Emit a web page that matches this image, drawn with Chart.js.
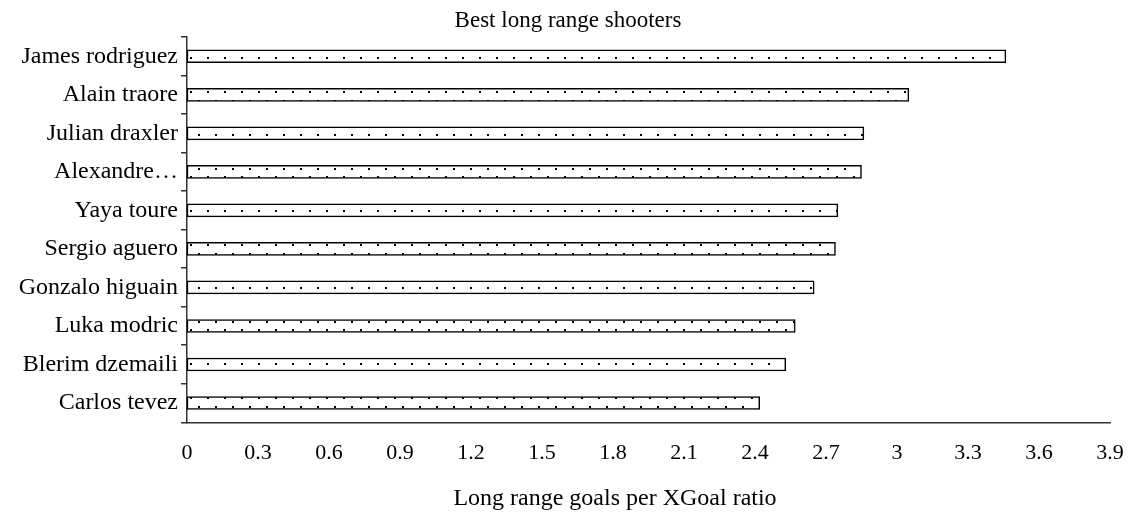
<!DOCTYPE html>
<html>
<head>
<meta charset="utf-8">
<script src="https://cdn.jsdelivr.net/npm/chart.js@4.4.1/dist/chart.umd.min.js"></script>
<style>
  html, body { margin: 0; padding: 0; background: #fff; }
  #wrap { width: 1131px; height: 513px; }
</style>
</head>
<body>
<div id="wrap"><canvas id="shooters"></canvas></div>
<script>
"use strict";

const players = ['James rodriguez', 'Alain traore', 'Julian draxler', 'Alexandre…', 'Yaya toure',
	'Sergio aguero', 'Gonzalo higuain', 'Luka modric', 'Blerim dzemaili', 'Carlos tevez'];
const ratios = [3.46, 3.05, 2.86, 2.85, 2.75, 2.74, 2.65, 2.57, 2.53, 2.42];
const xTicks = [0, 0.3, 0.6, 0.9, 1.2, 1.5, 1.8, 2.1, 2.4, 2.7, 3, 3.3, 3.6, 3.9];

const FONT = '"Liberation Serif", "Times New Roman", serif';
const font = { family: FONT, size: 22, weight: 'normal' };

// white fill with staggered black dots
function dots() {
	const c = document.createElement('canvas');
	c.width = 17; c.height = 17;
	const g = c.getContext('2d');
	g.fillStyle = '#fff';
	g.fillRect(0, 0, 17, 17);
	g.fillStyle = '#000';
	g.fillRect(3, 6, 2, 2);
	g.fillRect(11, 15, 2, 2);
	return g.createPattern(c, 'repeat');
}

// free standing texts: chart title and x axis caption
const captions = {
	id: 'captions',
	afterDraw(chart, args, opts) {
		const ctx = chart.ctx;
		ctx.save();
		ctx.fillStyle = '#000';
		ctx.textAlign = 'center';
		ctx.textBaseline = 'middle';
		for (const t of opts.items) {
			ctx.font = t.size + 'px ' + FONT;
			ctx.fillText(t.text, t.x, t.y);
		}
		ctx.restore();
	}
};

new Chart(document.getElementById('shooters'), {
	type: 'bar',
	data: {
		labels: players,
		datasets: [{
			data: ratios,
			backgroundColor: dots(),
			borderColor: '#000',
			borderWidth: 1.5,
			borderSkipped: false,
			barThickness: 13
		}]
	},
	options: {
		indexAxis: 'y',
		responsive: true,
		maintainAspectRatio: false,
		animation: false,
		layout: { padding: { top: 37, right: 21, bottom: 0, left: 0 } },
		plugins: {
			legend: { display: false },
			tooltip: { enabled: false },
			captions: {
				items: [
					{ text: 'Best long range shooters', x: 568, y: 21, size: 23 },
					{ text: 'Long range goals per XGoal ratio', x: 615, y: 499, size: 24 }
				]
			}
		},
		scales: {
			x: {
				min: 0,
				max: 3.9,
				afterBuildTicks: s => { s.ticks = xTicks.map(v => ({ value: v })); },
				afterFit: s => {
					s.height = 90.7;
					// the 3.9 label fits inside the right margin
					s.paddingRight = 0;
				},
				grid: { display: false, drawTicks: false },
				border: { display: true, color: '#333', width: 1.5 },
				ticks: {
					color: '#000',
					padding: 18,
					maxRotation: 0,
					autoSkip: false,
					font: font,
					callback: v => String(+v.toFixed(1))
				}
			},
			y: {
				afterFit: s => { s.width = 187; },
				grid: { drawOnChartArea: false, tickLength: 6, color: '#333', lineWidth: 1.5 },
				border: { color: '#333', width: 1.5 },
				ticks: { color: '#000', padding: 3, font: { family: FONT, size: 24, weight: 'normal' } }
			}
		}
	},
	plugins: [captions]
});
</script>
</body>
</html>
